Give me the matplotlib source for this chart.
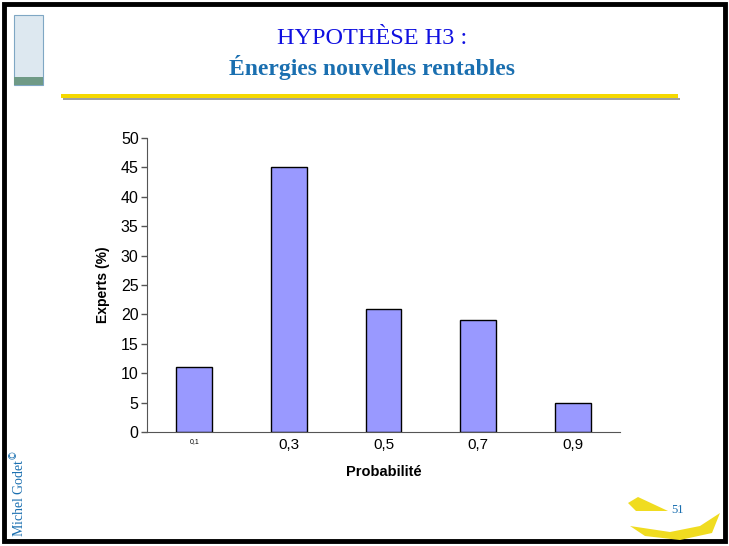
import matplotlib
matplotlib.use("Agg")
import matplotlib.pyplot as plt
from matplotlib.patches import Rectangle, Polygon

categories = ["0,1", "0,3", "0,5", "0,7", "0,9"]
values = [11, 45, 21, 19, 5]
yticks = [0, 5, 10, 15, 20, 25, 30, 35, 40, 45, 50]

W, H = 729, 546
fig = plt.figure(figsize=(W / 100, H / 100), dpi=100)
fig.patch.set_facecolor("white")

def fx(x):
    return x / W

def fy(y):
    return 1 - y / H

# slide border
fig.patches.append(Rectangle((fx(4), fy(541)), fx(721), 537 / H, transform=fig.transFigure,
                             fill=False, edgecolor="black", linewidth=3.5))

# logo top-left
fig.patches.append(Rectangle((fx(14), fy(85)), fx(29), 70 / H, transform=fig.transFigure,
                             facecolor="#dde8f0", edgecolor="#7fa7c4", linewidth=0.8))
fig.patches.append(Rectangle((fx(14), fy(85)), fx(29), 8 / H, transform=fig.transFigure,
                             facecolor="#6f9a86", edgecolor="none"))

# title
fig.text(fx(372), fy(38), "HYPOTHÈSE H3 :", ha="center", va="center",
         fontsize=17.5, family="Liberation Serif", color="#1010e0")
fig.text(fx(372), fy(67), "Énergies nouvelles rentables", ha="center", va="center",
         fontsize=17, family="Liberation Serif", fontweight="bold", color="#1a6fb0")

# yellow rule with shadow
fig.patches.append(Rectangle((fx(63), fy(100)), fx(617), 2 / H, transform=fig.transFigure,
                             facecolor="#a0a0a0", edgecolor="none"))
fig.patches.append(Rectangle((fx(61), fy(98)), fx(617), 4 / H, transform=fig.transFigure,
                             facecolor="#f5d800", edgecolor="none"))

# footer
fig.text(fx(18), fy(493), "Michel Godet$^{©}$", rotation=90, ha="center", va="center",
         fontsize=10, family="Liberation Serif", color="#1a6fb0")
fig.text(fx(677), fy(510), "51", ha="center", va="center",
         fontsize=9, family="Liberation Serif", color="#1a6fb0")
fig.patches.append(Polygon([(fx(628), fy(503)), (fx(638), fy(497)), (fx(668), fy(511)),
                            (fx(636), fy(511))], closed=True, transform=fig.transFigure,
                           facecolor="#f0dc20", edgecolor="none"))
fig.patches.append(Polygon([(fx(630), fy(526)), (fx(670), fy(532)), (fx(700), fy(526)),
                            (fx(720), fy(513)), (fx(712), fy(533)), (fx(680), fy(540)),
                            (fx(645), fy(536))], closed=True, transform=fig.transFigure,
                           facecolor="#f0dc20", edgecolor="none"))

# chart
ax = fig.add_axes([fx(147), fy(432), fx(620 - 147), (432 - 138) / H])
x = list(range(len(categories)))
ax.bar(x, values, width=0.38, color="#9999ff", edgecolor="black", linewidth=1)
ax.set_xlim(-0.5, len(categories) - 0.5)
ax.set_ylim(0, 50)
ax.set_yticks(yticks)
ax.set_yticklabels([str(v) for v in yticks], fontsize=11.5, family="Liberation Sans")
ax.set_xticks(x)
ax.set_xticklabels(categories, fontsize=11, family="Liberation Sans")
ax.get_xticklabels()[0].set_fontsize(5)
ax.tick_params(axis="x", length=0, pad=4)
ax.tick_params(axis="y", length=4, width=1, color="#555555", pad=2)
for s in ["top", "right"]:
    ax.spines[s].set_visible(False)
ax.spines["left"].set_color("#555555")
ax.spines["bottom"].set_color("#555555")
ax.set_xlabel("Probabilité", fontsize=10.5, family="Liberation Sans", fontweight="bold", labelpad=10)
ax.set_ylabel("Experts (%)", fontsize=10, family="Liberation Sans", fontweight="bold", labelpad=8)

fig.savefig("out.png", dpi=100)
